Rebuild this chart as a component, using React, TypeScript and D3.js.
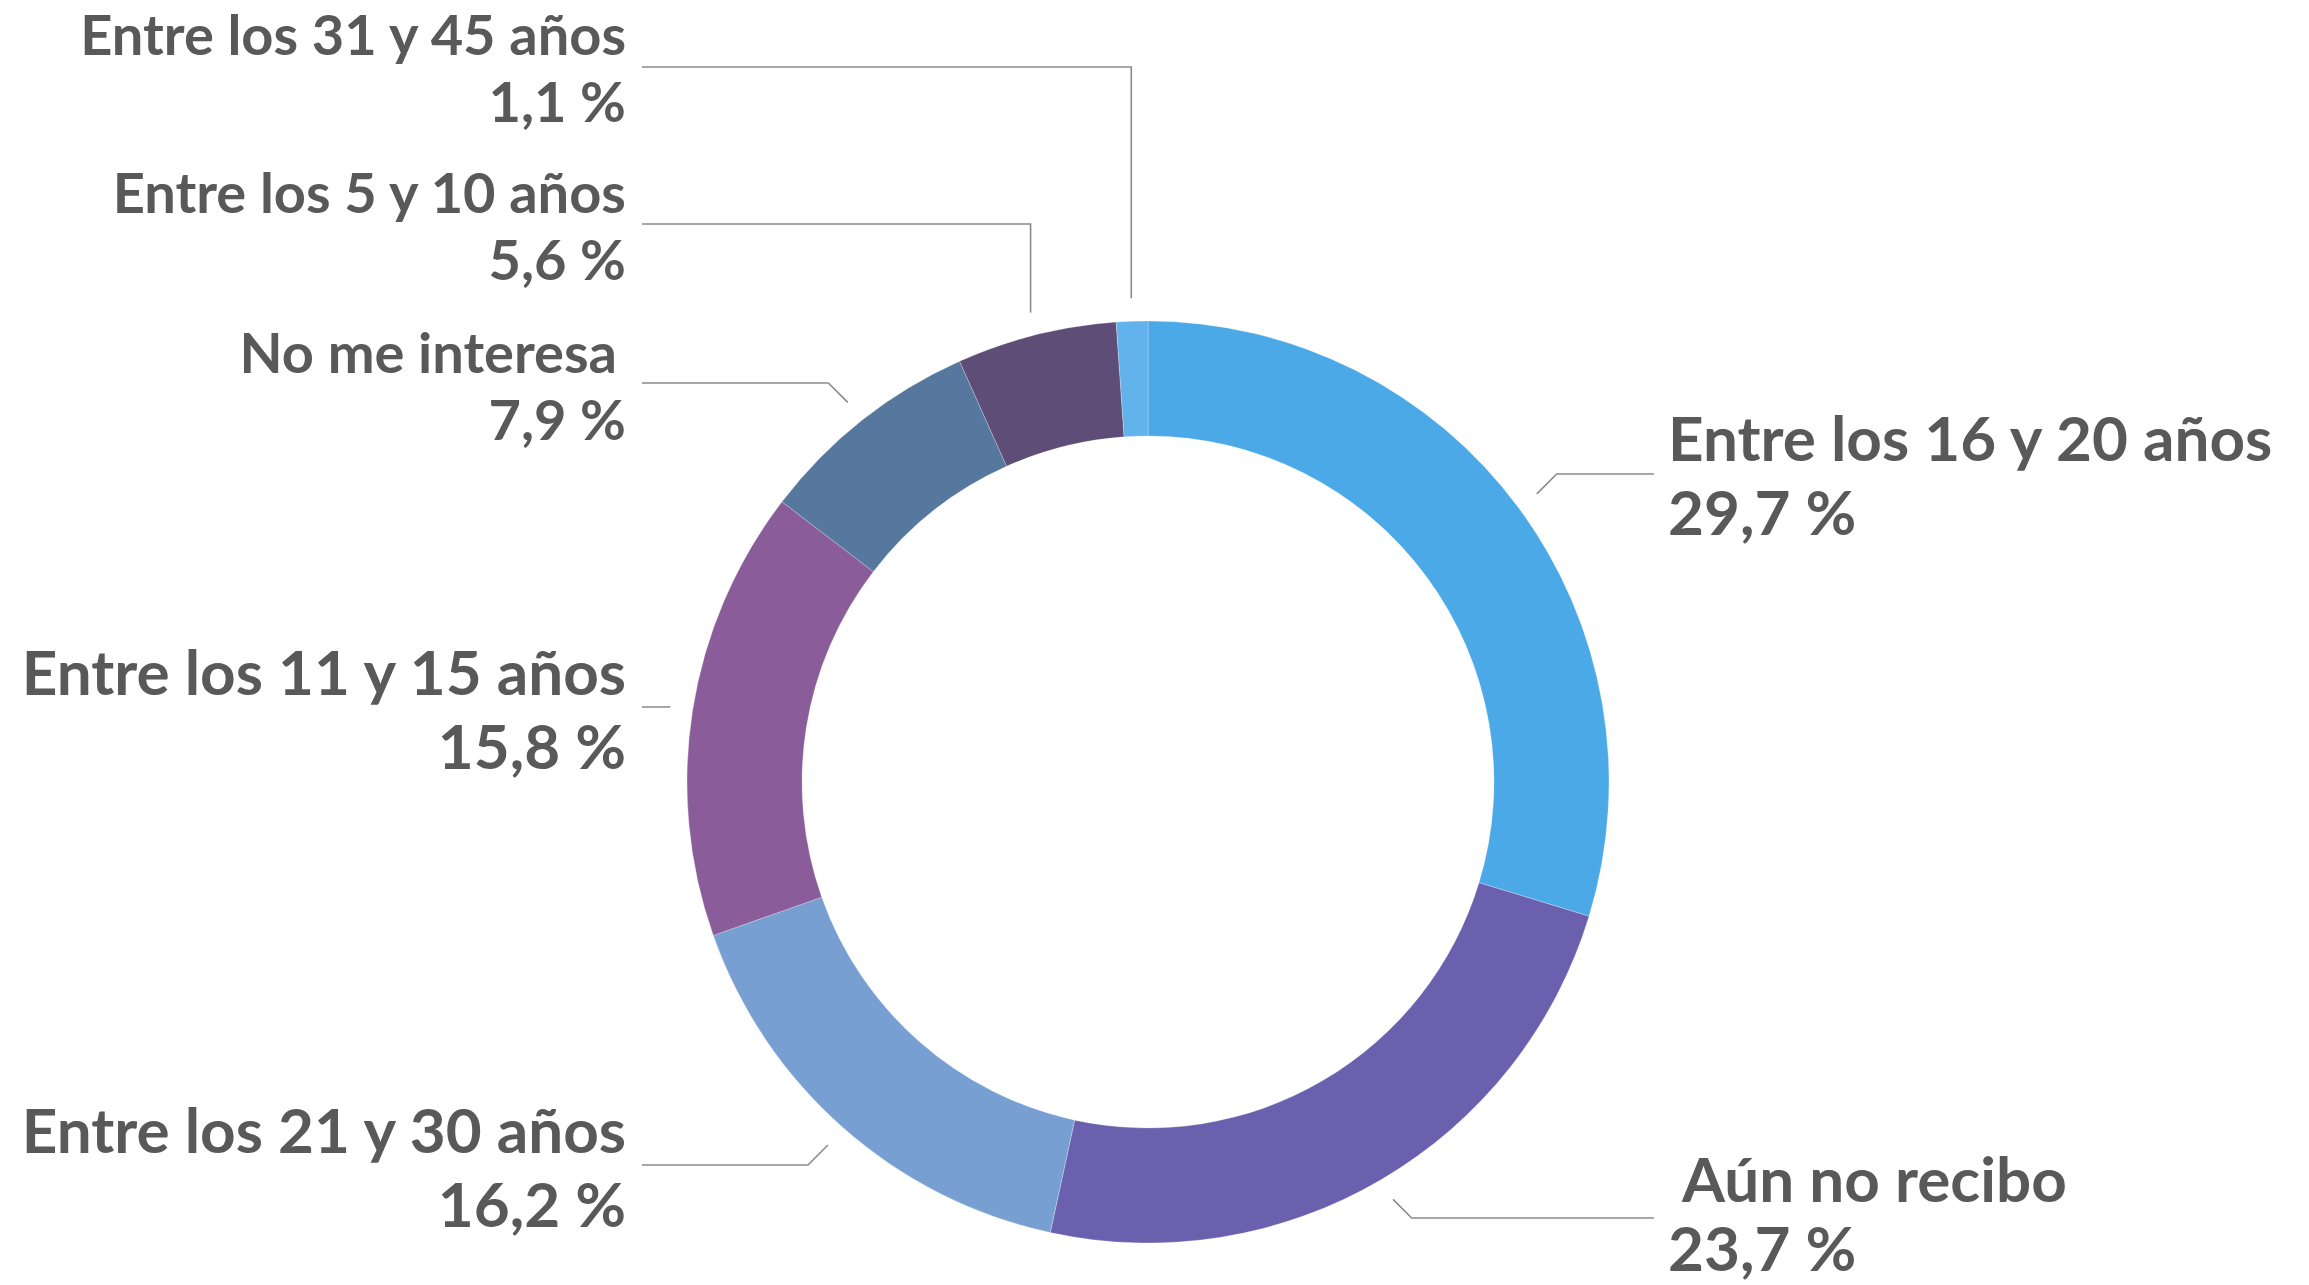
import React from "react";
import * as d3 from "d3";

const categories = [
  "Entre los 16 y 20 años",
  "Aún no recibo",
  "Entre los 21 y 30 años",
  "Entre los 11 y 15 años",
  "No me interesa",
  "Entre los 5 y 10 años",
  "Entre los 31 y 45 años",
];
const values = [29.7, 23.7, 16.2, 15.8, 7.9, 5.6, 1.1];
const valueLabels = ["29,7 %", "23,7 %", "16,2 %", "15,8 %", "7,9 %", "5,6 %", "1,1 %"];
const colors = ["#4BA9E7", "#6B60AE", "#779FD1", "#8A5C9A", "#56789E", "#5E4D77", "#62B3EB"];

// label layout (positions/styles only)
const labelLayout = [
  { side: 1, lineY: 474, size: 62, gap: 74, dx: 0, off: 13 },
  { side: 1, lineY: 1218, size: 62, gap: 69, dx: 14, off: 16 },
  { side: -1, lineY: 1165, size: 62, gap: 74, dx: 0, off: 12 },
  { side: -1, lineY: 707, size: 62, gap: 74, dx: 0, off: 12 },
  { side: -1, lineY: 383, size: 56, gap: 67, dx: -9, off: 10 },
  { side: -1, lineY: 224, size: 56, gap: 67, dx: 0, off: 11 },
  { side: -1, lineY: 67, size: 56, gap: 67, dx: 0, off: 12 },
];

const W = 2309;
const H = 1285;
const cx = 1148;
const cy = 782;
const outerR = 461;
const innerR = 346;
const leaderR = 484;
const leftTextX = 626;
const leftLineX = 642;
const rightTextX = 1668;
const rightLineX = 1654;
const textColor = "#595959";
const lineColor = "#8a8a8a";

export default function App() {
  const pie = d3.pie<number>().value((d) => d).sort(null);
  const arcs = pie(values);
  const arc = d3.arc<d3.PieArcDatum<number>>().innerRadius(innerR).outerRadius(outerR);

  return (
    <svg
      width={W}
      height={H}
      style={{ position: "absolute", left: 0, top: 0, background: "#fff" }}
      fontFamily="Lato, 'Open Sans', sans-serif"
      fontWeight={700}
    >
      <g transform={`translate(${cx},${cy})`}>
        {arcs.map((a, i) => (
          <path key={i} d={arc(a) || ""} fill={colors[i]} stroke="#ffffff" strokeOpacity={0.25} strokeWidth={1} />
        ))}
      </g>
      {arcs.map((a, i) => {
        const L = labelLayout[i];
        const mid = (a.startAngle + a.endAngle) / 2;
        const sx = cx + leaderR * Math.sin(mid);
        const sy = cy - leaderR * Math.cos(mid);
        const dy = Math.abs(sy - L.lineY);
        let ex = sx;
        if (dy <= 30) ex = sx + L.side * dy;
        const endX = L.side > 0 ? rightLineX : leftLineX;
        const pts: [number, number][] = [
          [sx, sy],
          [ex, L.lineY],
          [endX, L.lineY],
        ];
        const line = d3.line();
        const tx = (L.side > 0 ? rightTextX : leftTextX) + L.dx;
        const anchor = L.side > 0 ? "start" : "end";
        const b1 = L.lineY - L.off;
        return (
          <g key={"l" + i}>
            <path d={line(pts) || ""} fill="none" stroke={lineColor} strokeWidth={1.6} />
            <text x={tx} y={b1} textAnchor={anchor} fontSize={L.size} fill={textColor}>
              {categories[i]}
            </text>
            <text
              x={L.side > 0 ? rightTextX : leftTextX}
              y={b1 + L.gap}
              textAnchor={anchor}
              fontSize={L.size}
              fill={textColor}
            >
              {valueLabels[i]}
            </text>
          </g>
        );
      })}
    </svg>
  );
}
